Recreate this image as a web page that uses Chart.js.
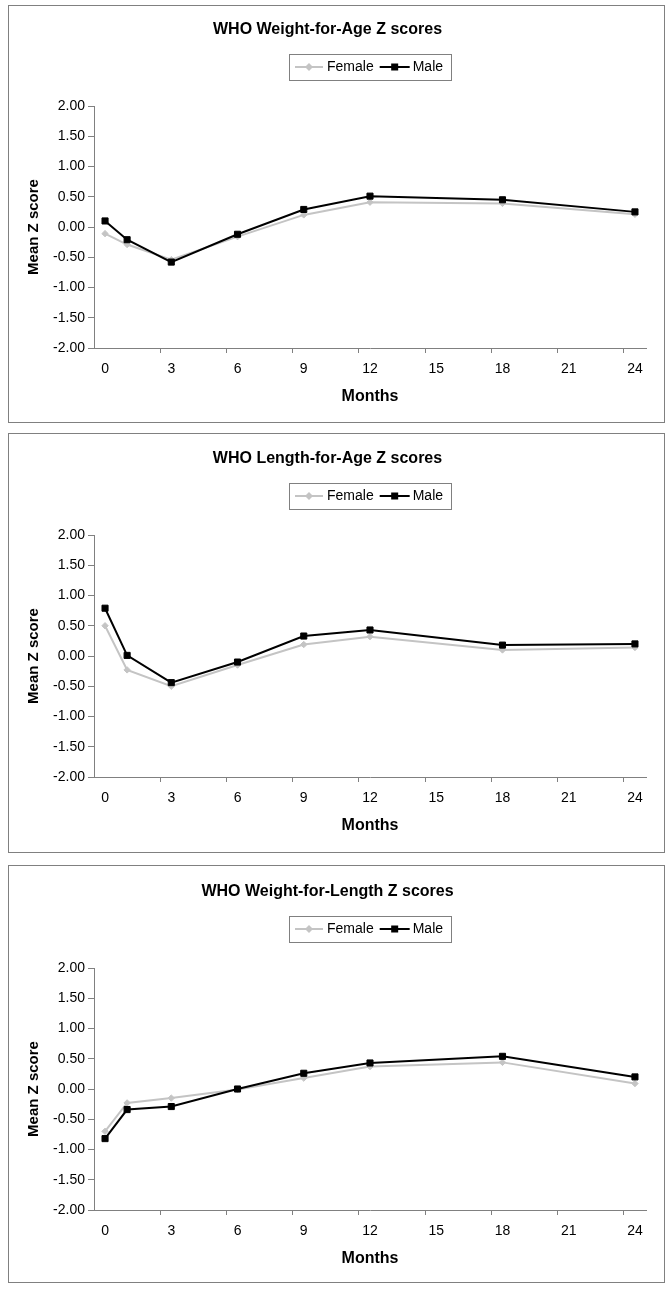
<!DOCTYPE html>
<html>
<head>
<meta charset="utf-8">
<script src="https://cdn.jsdelivr.net/npm/chart.js@4.4.0/dist/chart.umd.min.js"></script>
<style>
  html, body { margin: 0; padding: 0; background: #fff; }
  body { width: 672px; height: 1292px; position: relative; overflow: hidden; }
  .frame { position: absolute; box-sizing: border-box; border: 1px solid #808080; background: #fff; left: 8px; width: 657px; }
  canvas { position: absolute; left: 9px; }
</style>
</head>
<body>
<div class="frame" style="top:5px;height:418px;"></div>
<div class="frame" style="top:433px;height:420px;"></div>
<div class="frame" style="top:865px;height:418px;"></div>
<canvas id="c1" width="654" height="412" style="top:5px;"></canvas>
<canvas id="c2" width="654" height="412" style="top:434px;"></canvas>
<canvas id="c3" width="654" height="412" style="top:867px;"></canvas>
<script>
// ---- Data ----
const months = [0, 1, 3, 6, 9, 12, 18, 24];
const seriesNames = ['Female', 'Male'];
const xLabelValues = [0, 3, 6, 9, 12, 15, 18, 21, 24];
const xTickMarkValues = [2.5, 5.5, 8.5, 11.5, 14.5, 17.5, 20.5, 23.5];

const titles = [
  'WHO Weight-for-Age Z scores',
  'WHO Length-for-Age Z scores',
  'WHO Weight-for-Length Z scores'
];

const wfaFemale = [-0.11, -0.29, -0.54, -0.16, 0.20, 0.41, 0.39, 0.21];
const wfaMale   = [ 0.10, -0.21, -0.58, -0.12, 0.29, 0.51, 0.45, 0.25];

const lfaFemale = [ 0.50, -0.23, -0.50, -0.15, 0.19, 0.32, 0.10, 0.14];
const lfaMale   = [ 0.79,  0.01, -0.44, -0.10, 0.33, 0.43, 0.18, 0.20];

const wflFemale = [-0.70, -0.23, -0.15, -0.01, 0.18, 0.37, 0.44, 0.09];
const wflMale   = [-0.82, -0.34, -0.29,  0.00, 0.26, 0.43, 0.54, 0.20];

// ---- Styling ----
const FONT = '"Liberation Sans", Arial, Helvetica, sans-serif';
const FEMALE_COLOR = '#c4c4c4';
const MALE_COLOR = '#000000';
const AXIS_COLOR = '#808080';

Chart.defaults.font.family = FONT;
Chart.defaults.color = '#000';

function toPoints(vals) {
  return months.map((m, i) => ({ x: m, y: vals[i] }));
}

const boxLegend = {
  id: 'boxLegend',
  afterDraw(chart) {
    const ctx = chart.ctx;
    const area = chart.chartArea;
    ctx.save();
    ctx.font = '14px ' + FONT;
    const wF = ctx.measureText(seriesNames[0]).width;
    const wM = ctx.measureText(seriesNames[1]).width;
    const padL = 6, sampleF = 28, gapF = 4, itemGap = 6, sampleM = 30, gapM = 3, padR = 8;
    const total = padL + sampleF + gapF + wF + itemGap + sampleM + gapM + wM + padR;
    const cx = (area.left + area.right) / 2;
    const left = Math.round(cx - total / 2);
    const top = 49, h = 26;
    const cy = top + h / 2;
    ctx.strokeStyle = AXIS_COLOR;
    ctx.lineWidth = 1;
    ctx.strokeRect(left + 0.5, top + 0.5, Math.round(total), h);
    let x = left + padL;
    // female sample
    ctx.strokeStyle = FEMALE_COLOR;
    ctx.lineWidth = 2;
    ctx.beginPath(); ctx.moveTo(x, cy); ctx.lineTo(x + sampleF, cy); ctx.stroke();
    const fx = x + sampleF / 2;
    ctx.fillStyle = FEMALE_COLOR;
    ctx.beginPath();
    ctx.moveTo(fx, cy - 4); ctx.lineTo(fx + 4, cy); ctx.lineTo(fx, cy + 4); ctx.lineTo(fx - 4, cy);
    ctx.closePath(); ctx.fill();
    x += sampleF + gapF;
    ctx.fillStyle = '#000';
    ctx.textBaseline = 'middle';
    ctx.textAlign = 'left';
    ctx.fillText(seriesNames[0], x, cy + 0.5);
    x += wF + itemGap;
    // male sample
    ctx.strokeStyle = MALE_COLOR;
    ctx.lineWidth = 2;
    ctx.beginPath(); ctx.moveTo(x, cy); ctx.lineTo(x + sampleM, cy); ctx.stroke();
    const mx = x + sampleM / 2;
    ctx.fillStyle = MALE_COLOR;
    ctx.fillRect(mx - 3.5, cy - 3.5, 7, 7);
    x += sampleM + gapM;
    ctx.fillStyle = '#000';
    ctx.fillText(seriesNames[1], x, cy + 0.5);
    ctx.restore();
  }
};

function makeChart(id, title, female, male) {
  return new Chart(document.getElementById(id), {
    type: 'line',
    data: {
      datasets: [
        {
          label: seriesNames[0],
          data: toPoints(female),
          borderColor: FEMALE_COLOR,
          backgroundColor: FEMALE_COLOR,
          borderWidth: 2,
          pointStyle: 'rectRot',
          pointRadius: 3.2,
          pointBorderWidth: 1,
          pointBorderColor: FEMALE_COLOR,
          pointBackgroundColor: FEMALE_COLOR,
          tension: 0,
          order: 1
        },
        {
          label: seriesNames[1],
          data: toPoints(male),
          borderColor: MALE_COLOR,
          backgroundColor: MALE_COLOR,
          borderWidth: 2,
          pointStyle: 'rect',
          pointRadius: 4.3,
          pointBorderWidth: 1,
          pointBorderColor: MALE_COLOR,
          pointBackgroundColor: MALE_COLOR,
          tension: 0,
          order: 0
        }
      ]
    },
    options: {
      responsive: false,
      animation: false,
      devicePixelRatio: 1,
      layout: { padding: { left: 0, right: 17, top: 0, bottom: 0 } },
      plugins: {
        legend: { display: false },
        tooltip: { enabled: false },
        title: {
          display: true,
          text: title,
          color: '#000',
          font: { size: 16, weight: 'bold', family: FONT },
          padding: { top: 15, bottom: 66.8 }
        }
      },
      scales: {
        x: {
          type: 'linear',
          min: -0.5,
          max: 24.5,
          afterBuildTicks(scale) {
            const vals = xLabelValues.concat(xTickMarkValues).sort((a, b) => a - b);
            scale.ticks = vals.map(v => ({ value: v }));
          },
          afterFit(scale) { scale.height = 69; },
          ticks: {
            autoSkip: false,
            maxRotation: 0,
            minRotation: 0,
            padding: 8,
            color: '#000',
            font: { size: 14, family: FONT },
            callback: (v) => xLabelValues.includes(v) ? String(v) : ''
          },
          grid: {
            drawOnChartArea: false,
            drawTicks: true,
            tickLength: 5,
            tickWidth: 1,
            tickColor: (ctx) => (ctx.tick && xTickMarkValues.includes(ctx.tick.value)) ? AXIS_COLOR : 'rgba(0,0,0,0)'
          },
          border: { display: true, color: AXIS_COLOR, width: 1 },
          title: {
            display: true,
            text: 'Months',
            color: '#000',
            font: { size: 16, weight: 'bold', family: FONT },
            padding: { top: 0, bottom: 10.4 }
          }
        },
        y: {
          type: 'linear',
          min: -2,
          max: 2,
          afterFit(scale) { scale.width = 85; },
          ticks: {
            stepSize: 0.5,
            padding: 3,
            color: '#000',
            font: { size: 14, family: FONT },
            callback: (v) => Number(v).toFixed(2)
          },
          grid: {
            drawOnChartArea: false,
            drawTicks: true,
            tickLength: 6,
            tickColor: AXIS_COLOR
          },
          border: { display: true, color: AXIS_COLOR, width: 1 },
          title: {
            display: true,
            text: 'Mean Z score',
            color: '#000',
            font: { size: 15, weight: 'bold', family: FONT },
            padding: { top: 16, bottom: 0 }
          }
        }
      }
    },
    plugins: [boxLegend]
  });
}

makeChart('c1', titles[0], wfaFemale, wfaMale);
makeChart('c2', titles[1], lfaFemale, lfaMale);
makeChart('c3', titles[2], wflFemale, wflMale);
</script>
</body>
</html>
